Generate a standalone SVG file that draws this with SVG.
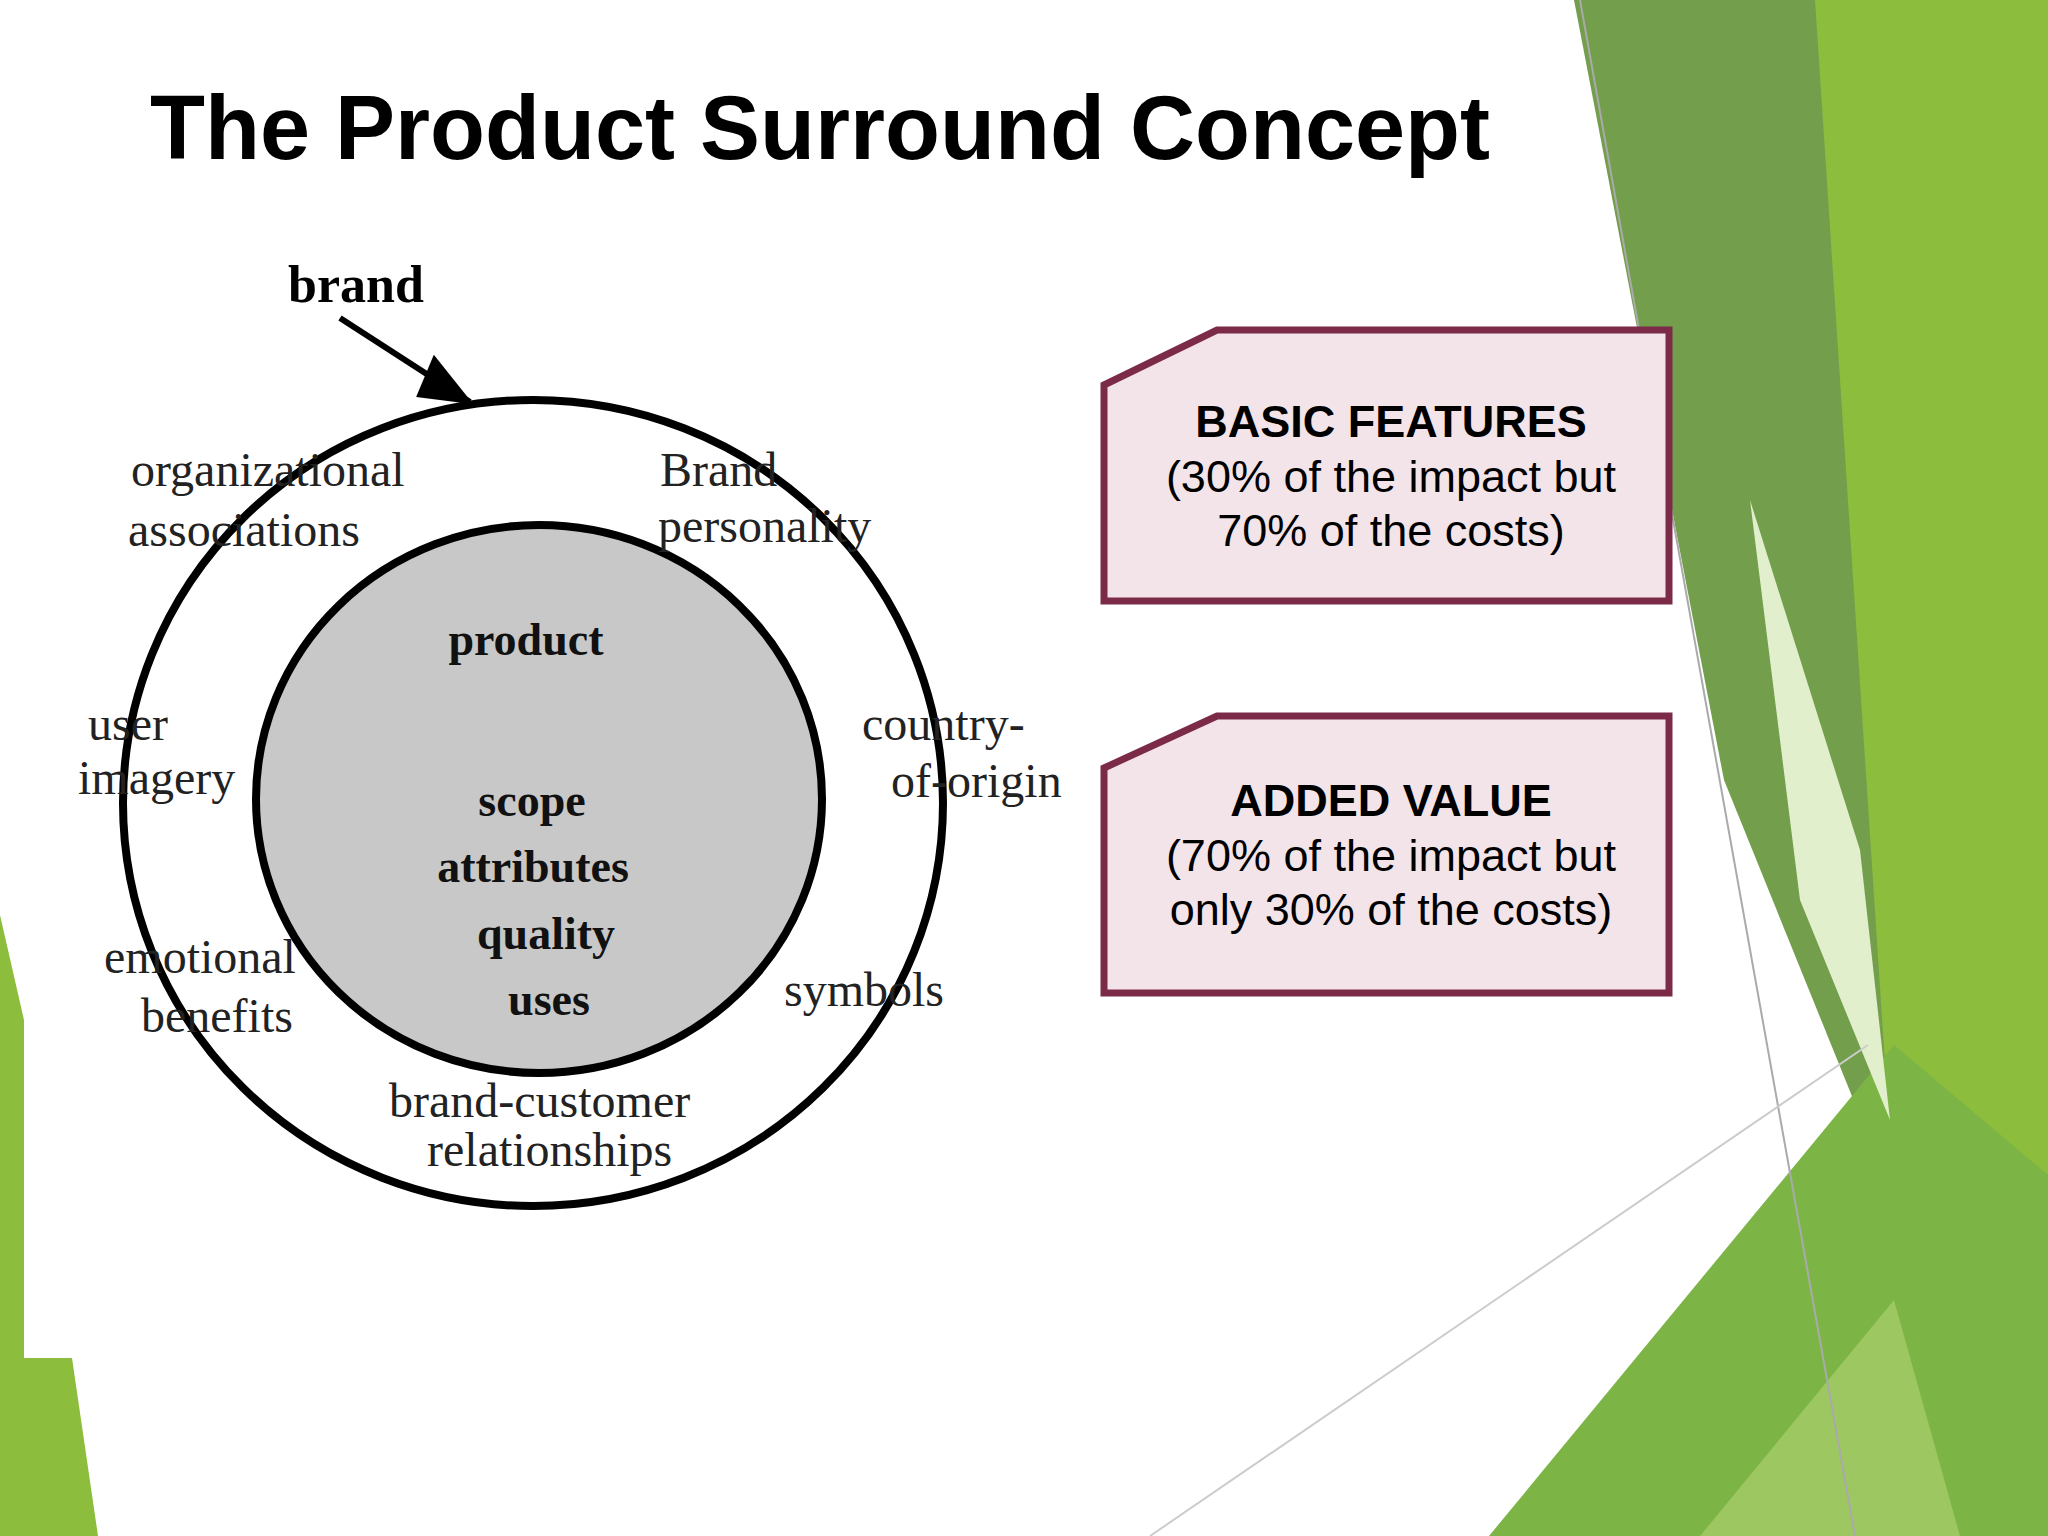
<svg xmlns="http://www.w3.org/2000/svg" width="2048" height="1536" viewBox="0 0 2048 1536">
<style>
.lbl{font-family:"Liberation Serif",serif;font-size:48px;fill:#222}
.in{font-family:"Liberation Serif",serif;font-size:46px;font-weight:bold;fill:#111;text-anchor:middle}
.bx{fill:#f3e4e9;stroke:#7b2a48;stroke-width:7}
.bt{font-family:"Liberation Sans",Arial,sans-serif;font-size:45px;fill:#000;text-anchor:middle}
</style>
<defs><marker id="ah" markerWidth="60" markerHeight="50" refX="56" refY="25" orient="auto" markerUnits="userSpaceOnUse" viewBox="0 0 60 50"><path d="M0,5 L60,25 L8,50 z" fill="#000"/></marker></defs>
<rect width="2048" height="1536" fill="#fff"/>
<g id="decor">
<polygon points="1574,0 1822,0 1894,1200 1724,780" fill="#739e4c"/>
<polygon points="1815,0 2048,0 2048,1536 1930,1536 1894,1200" fill="#8cbd3c"/>
<polygon points="1489,1536 1894,1045 2048,1175 2048,1536" fill="#7cb445"/>
<polygon points="1700,1536 1894,1300 1960,1536" fill="#a9cf6e" opacity="0.7"/>
<polygon points="1750,500 1860,850 1890,1120 1800,900" fill="#e2efcd"/>
<polygon points="0,915 24,1020 24,1358 72,1358 98,1536 0,1536" fill="#8cbd3c"/>
<line x1="1580" y1="0" x2="1855" y2="1536" stroke="#aaa" stroke-width="2"/>
<line x1="1150" y1="1536" x2="1868" y2="1045" stroke="#ccc" stroke-width="2"/>
</g>
<text x="150" y="159" font-family="Liberation Sans,Arial,sans-serif" font-size="90" font-weight="bold" fill="#000">The Product Surround Concept</text>
<g id="outer"><ellipse cx="533" cy="803" rx="410" ry="403" fill="none" stroke="#000" stroke-width="8"/></g>
<g id="inner"><ellipse cx="539" cy="799" rx="283" ry="274" fill="#c8c8c8" stroke="#000" stroke-width="8"/></g>
<g id="connectors"><line x1="340" y1="318" x2="470" y2="402" stroke="#000" stroke-width="6" marker-end="url(#ah)"/></g>
<text x="288" y="302" font-family="Liberation Serif,serif" font-size="52" font-weight="bold">brand</text>
<g id="labels">
<text class="lbl" x="131" y="486">organizational</text><text class="lbl" x="128" y="546">associations</text>
<text class="lbl" x="660" y="486">Brand</text><text class="lbl" x="658" y="542">personality</text>
<text class="lbl" x="88" y="740">user</text><text class="lbl" x="78" y="794">imagery</text>
<text class="lbl" x="862" y="740">country-</text><text class="lbl" x="891" y="797">of-origin</text>
<text class="lbl" x="104" y="973">emotional</text><text class="lbl" x="141" y="1032">benefits</text>
<text class="lbl" x="784" y="1006">symbols</text>
<text class="lbl" x="389" y="1117">brand-customer</text><text class="lbl" x="427" y="1166">relationships</text>
<text class="in" x="526" y="655" font-size="54">product</text>
<text class="in" x="532" y="816">scope</text><text class="in" x="533" y="882">attributes</text>
<text class="in" x="546" y="949">quality</text><text class="in" x="549" y="1015">uses</text>
</g>
<g id="box1"><polygon class="bx" points="1104,385 1217,330 1669,330 1669,601 1104,601"/>
<text class="bt" x="1391" y="437" font-weight="bold">BASIC FEATURES</text>
<text class="bt" x="1391" y="492">(30% of the impact but</text>
<text class="bt" x="1391" y="546">70% of the costs)</text></g>
<g id="box2"><polygon class="bx" points="1104,768 1217,716 1669,716 1669,993 1104,993"/>
<text class="bt" x="1391" y="816" font-weight="bold">ADDED VALUE</text>
<text class="bt" x="1391" y="871">(70% of the impact but</text>
<text class="bt" x="1391" y="925">only 30% of the costs)</text></g>
</svg>
